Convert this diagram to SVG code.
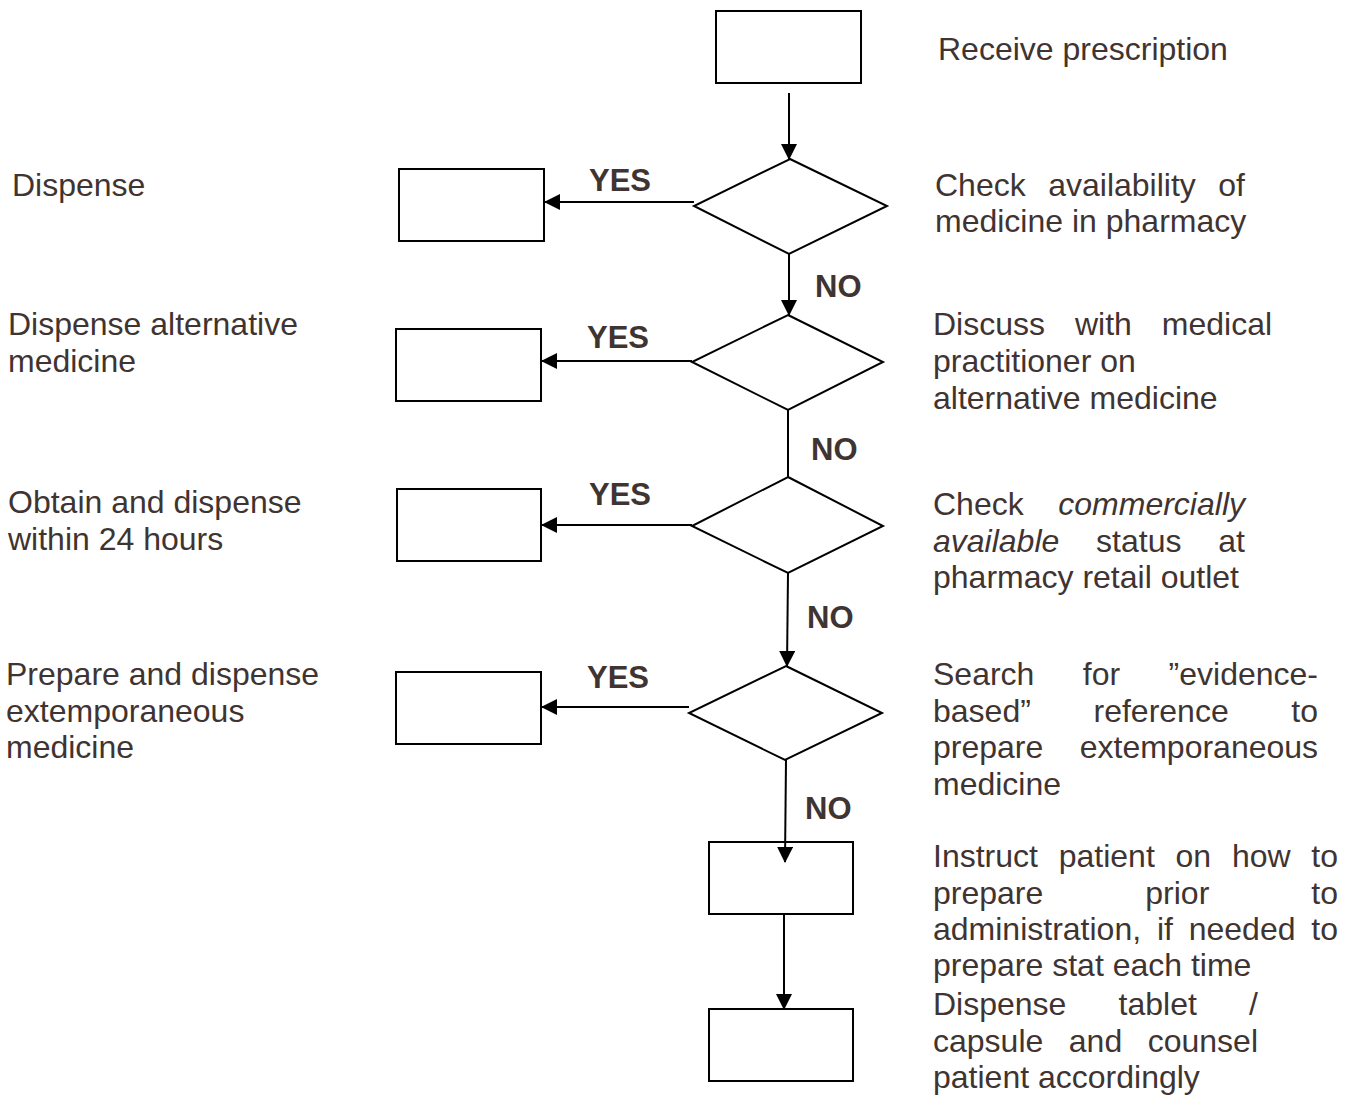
<svg xmlns="http://www.w3.org/2000/svg" width="1356" height="1120" viewBox="0 0 1356 1120">
<style>
.t{font-family:"Liberation Sans",Arial,sans-serif;font-size:32px;fill:#3f3431}
.b{font-weight:bold;font-size:31px}
.i{font-style:italic}
.box{fill:#fff;stroke:#000;stroke-width:2}
.c{stroke:#000;stroke-width:2;fill:none}
</style>
<defs>
<marker id="ah" markerUnits="userSpaceOnUse" markerWidth="16" markerHeight="16" refX="15" refY="8" orient="auto">
<path d="M0,0 L16,8 L0,16 z" fill="#000"/>
</marker>
</defs>
<rect width="1356" height="1120" fill="#fff"/>

<g id="n-receive">
<rect class="box" x="716" y="11" width="145" height="72"/>
<text class="t" x="938" y="60">Receive prescription</text>
</g>

<g id="n-check-availability">
<polygon class="box" points="790,159 887,206 789,254 694,206"/>
<text class="t" y="196"><tspan x="935">Check</tspan><tspan x="1048.2">availability</tspan><tspan x="1218.3">of</tspan></text>
<text class="t" x="935" y="232">medicine in pharmacy</text>
</g>

<g id="n-dispense">
<rect class="box" x="399" y="169" width="145" height="72"/>
<text class="t" x="12" y="196">Dispense</text>
</g>

<g id="n-discuss">
<polygon class="box" points="788,315 883,362 788,410 692,362"/>
<text class="t" y="335"><tspan x="933">Discuss</tspan><tspan x="1075">with</tspan><tspan x="1161.8">medical</tspan></text>
<text class="t" x="933" y="372">practitioner on</text>
<text class="t" x="933" y="409">alternative medicine</text>
</g>

<g id="n-dispense-alt">
<rect class="box" x="396" y="329" width="145" height="72"/>
<text class="t" x="8" y="335">Dispense alternative</text>
<text class="t" x="8" y="372">medicine</text>
</g>

<g id="n-check-commercial">
<polygon class="box" points="788,477 883,526 788,573 692,526"/>
<text class="t" y="515"><tspan x="933">Check</tspan><tspan class="i" x="1058.3">commercially</tspan></text>
<text class="t" y="552"><tspan class="i" x="933">available</tspan><tspan x="1096.1">status</tspan><tspan x="1218.3">at</tspan></text>
<text class="t" x="933" y="588">pharmacy retail outlet</text>
</g>

<g id="n-obtain">
<rect class="box" x="397" y="489" width="144" height="72"/>
<text class="t" x="8" y="513">Obtain and dispense</text>
<text class="t" x="8" y="550">within 24 hours</text>
</g>

<g id="n-search">
<polygon class="box" points="786,666 882,713 785,760 689,713"/>
<text class="t" y="685"><tspan x="933">Search</tspan><tspan x="1082.8">for</tspan><tspan x="1168.6">”evidence-</tspan></text>
<text class="t" y="722"><tspan x="933">based”</tspan><tspan x="1093.5">reference</tspan><tspan x="1291.3">to</tspan></text>
<text class="t" y="758"><tspan x="933">prepare</tspan><tspan x="1079.7">extemporaneous</tspan></text>
<text class="t" x="933" y="795">medicine</text>
</g>

<g id="n-prepare-extemp">
<rect class="box" x="396" y="672" width="145" height="72"/>
<text class="t" x="6" y="685">Prepare and dispense</text>
<text class="t" x="6" y="722">extemporaneous</text>
<text class="t" x="6" y="758">medicine</text>
</g>

<g id="n-instruct">
<rect class="box" x="709" y="842" width="144" height="72"/>
<text class="t" y="867"><tspan x="933">Instruct</tspan><tspan x="1058.7">patient</tspan><tspan x="1175.5">on</tspan><tspan x="1231.9">how</tspan><tspan x="1311.3">to</tspan></text>
<text class="t" y="904"><tspan x="933">prepare</tspan><tspan x="1145.3">prior</tspan><tspan x="1311.3">to</tspan></text>
<text class="t" y="940"><tspan x="933">administration,</tspan><tspan x="1156.9">if</tspan><tspan x="1188.7">needed</tspan><tspan x="1311.3">to</tspan></text>
<text class="t" x="933" y="976">prepare stat each time</text>
</g>

<g id="n-dispense-tablet">
<rect class="box" x="709" y="1009" width="144" height="72"/>
<text class="t" y="1015"><tspan x="933">Dispense</tspan><tspan x="1118.6">tablet</tspan><tspan x="1249.1">/</tspan></text>
<text class="t" y="1052"><tspan x="933">capsule</tspan><tspan x="1068.8">and</tspan><tspan x="1147.7">counsel</tspan></text>
<text class="t" x="933" y="1088">patient accordingly</text>
</g>

<g id="connectors">
<line class="c" x1="789" y1="93" x2="789" y2="159" marker-end="url(#ah)"/>
<line class="c" x1="789" y1="254" x2="789" y2="315" marker-end="url(#ah)"/>
<line class="c" x1="788" y1="410" x2="788" y2="477"/>
<line class="c" x1="788" y1="573" x2="787" y2="666" marker-end="url(#ah)"/>
<line class="c" x1="786" y1="760" x2="785" y2="862" marker-end="url(#ah)"/>
<line class="c" x1="784" y1="914" x2="784" y2="1009" marker-end="url(#ah)"/>
<line class="c" x1="694" y1="202" x2="545" y2="202" marker-end="url(#ah)"/>
<line class="c" x1="692" y1="361" x2="542" y2="361" marker-end="url(#ah)"/>
<line class="c" x1="692" y1="525" x2="542" y2="525" marker-end="url(#ah)"/>
<line class="c" x1="689" y1="707" x2="542" y2="707" marker-end="url(#ah)"/>
<text class="t b" x="589" y="191">YES</text>
<text class="t b" x="587" y="348">YES</text>
<text class="t b" x="589" y="505">YES</text>
<text class="t b" x="587" y="688">YES</text>
<text class="t b" x="815" y="297">NO</text>
<text class="t b" x="811" y="460">NO</text>
<text class="t b" x="807" y="628">NO</text>
<text class="t b" x="805" y="819">NO</text>
</g>
</svg>
